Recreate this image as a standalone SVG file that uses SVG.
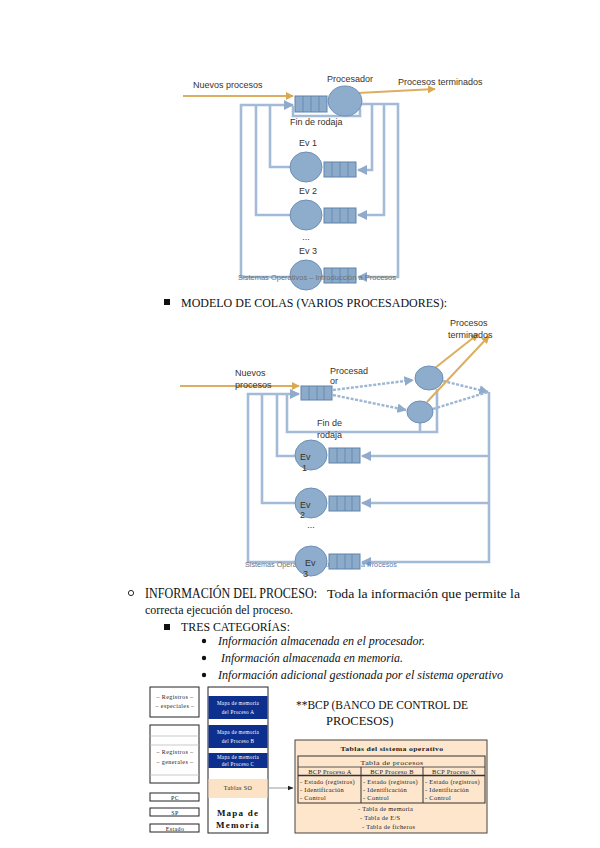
<svg xmlns="http://www.w3.org/2000/svg" width="600" height="848" viewBox="0 0 600 848">
<defs>
<style>
.lbl{font-family:"Liberation Sans",Arial,sans-serif;font-size:9px;fill:#3a3328}
.foot{font-family:"Liberation Sans",Arial,sans-serif;font-size:7px;fill:#707070}
.body{font-family:"Liberation Serif","Times New Roman",serif;fill:#111}
.it{font-style:italic}
.pipe{fill:none;stroke:#a3bbd6;stroke-width:2.6}
.dash{fill:none;stroke:#9cb6d3;stroke-width:2.4;stroke-dasharray:3 1.5}
.org{fill:none;stroke:#dcae62;stroke-width:2}
.circ{fill:#8eadcd;stroke:#6d90b6;stroke-width:1}
.q{fill:#8cabcb;stroke:#5f83aa;stroke-width:1}
.cell{stroke:#5f83aa;stroke-width:0.8}
.box{fill:#fff;stroke:#222;stroke-width:1}
.tiny{font-family:"Liberation Serif","Times New Roman",serif;font-size:6px;fill:#222;letter-spacing:0.4px}
.mw{font-family:"Liberation Serif","Times New Roman",serif;font-size:5.2px;fill:#fff;letter-spacing:0.3px}
.tb{font-family:"Liberation Serif","Times New Roman",serif;font-size:6.4px;fill:#222;letter-spacing:0.3px}
</style>
<marker id="ab" viewBox="0 0 10 10" refX="9" refY="5" markerWidth="4" markerHeight="4" orient="auto"><path d="M0,0 L10,5 L0,10 z" fill="#8faacb"/></marker>
<marker id="ao" viewBox="0 0 10 10" refX="9" refY="5" markerWidth="4" markerHeight="4" orient="auto"><path d="M0,0 L10,5 L0,10 z" fill="#d9a850"/></marker>
<marker id="ak" viewBox="0 0 10 10" refX="9" refY="5" markerWidth="6" markerHeight="6" orient="auto"><path d="M0,1 L10,5 L0,9 z" fill="#222"/></marker>
</defs>
<rect width="600" height="848" fill="#fff"/>

<!-- ============ TOP DIAGRAM ============ -->
<g id="top-connectors">
<path class="pipe" d="M290,277 H241 V105 H293" marker-end="url(#ab)"/>
<path class="pipe" d="M290,215 H256 V105"/>
<path class="pipe" d="M290,167 H270 V105"/>
<path class="pipe" d="M360,108 V116 H293 V106"/>
<path class="pipe" d="M361,104 H398 V277 H358" marker-end="url(#ab)"/>
<path class="pipe" d="M384,104 V215 H358" marker-end="url(#ab)"/>
<path class="pipe" d="M372,104 V170 H358" marker-end="url(#ab)"/>
<path class="org" d="M183,96 H293" marker-end="url(#ao)"/>
<path class="org" d="M358,93 L435,89" marker-end="url(#ao)"/>
</g>
<g id="top-queue">
<rect class="q" x="295" y="96" width="32" height="16"/>
<path class="cell" d="M303,96V112M311,96V112M319,96V112"/>
</g>
<g id="top-processor"><ellipse class="circ" cx="345" cy="101" rx="17" ry="15"/></g>
<g id="top-ev1"><ellipse class="circ" cx="306" cy="167" rx="16" ry="15"/><rect class="q" x="324" y="162" width="32" height="15"/><path class="cell" d="M332,162V177M340,162V177M348,162V177"/></g>
<g id="top-ev2"><ellipse class="circ" cx="306" cy="215" rx="16" ry="15"/><rect class="q" x="324" y="208" width="32" height="15"/><path class="cell" d="M332,208V223M340,208V223M348,208V223"/></g>
<g id="top-ev3"><ellipse class="circ" cx="306" cy="275" rx="16" ry="15"/><rect class="q" x="324" y="268" width="32" height="15"/><path class="cell" d="M332,268V283M340,268V283M348,268V283"/></g>
<g id="top-labels">
<text class="lbl" x="193" y="88">Nuevos procesos</text>
<text class="lbl" x="327" y="82">Procesador</text>
<text class="lbl" x="398" y="85">Procesos terminados</text>
<text class="lbl" x="290" y="125">Fin de rodaja</text>
<text class="lbl" x="308" y="146" text-anchor="middle">Ev 1</text>
<text class="lbl" x="308" y="194" text-anchor="middle">Ev 2</text>
<text class="lbl" x="306" y="240" text-anchor="middle">...</text>
<text class="lbl" x="308" y="254" text-anchor="middle">Ev 3</text>
<text class="foot" x="238" y="280" textLength="158" lengthAdjust="spacingAndGlyphs">Sistemas Operativos – Introducción a Procesos</text>
</g>

<!-- ============ TEXT 1 ============ -->
<g id="heading-colas">
<rect x="164" y="299" width="6" height="6" fill="#111"/>
<text class="body" x="181" y="307" font-size="12.5" textLength="266" lengthAdjust="spacingAndGlyphs">MODELO DE COLAS (VARIOS PROCESADORES):</text>
</g>

<!-- ============ MIDDLE DIAGRAM ============ -->
<g id="mid-connectors">
<path class="pipe" d="M295,562 H248 V394 H299" marker-end="url(#ab)"/>
<path class="pipe" d="M295,503 H262 V394"/>
<path class="pipe" d="M295,456 H277 V394"/>
<path class="pipe" d="M420,423 V432 H287 V394"/>
<path class="pipe" d="M437,389 V432 H420"/>
<path class="pipe" d="M489,392 V562 H362" marker-end="url(#ab)"/>
<path class="pipe" d="M489,503 H362" marker-end="url(#ab)"/>
<path class="pipe" d="M489,456 H362" marker-end="url(#ab)"/>
<path class="dash" d="M333,390 L413,380" marker-end="url(#ab)"/>
<path class="dash" d="M333,395 L406,410" marker-end="url(#ab)"/>
<path class="dash" d="M443,381 L488,392" marker-end="url(#ab)"/>
<path class="dash" d="M433,409 L488,392"/>
<path class="org" d="M180,386 H299" marker-end="url(#ao)"/>
<path class="org" d="M435,368 L478,334" marker-end="url(#ao)"/>
<path class="org" d="M427,402 L489,336" marker-end="url(#ao)"/>
</g>
<g id="mid-queue">
<rect class="q" x="301" y="386" width="31" height="14"/>
<path class="cell" d="M309,386V400M317,386V400M324,386V400"/>
</g>
<g id="mid-proc1"><ellipse class="circ" cx="429" cy="378" rx="14" ry="12"/></g>
<g id="mid-proc2"><ellipse class="circ" cx="420" cy="412" rx="13" ry="11"/></g>
<text class="foot" x="245" y="567" textLength="152" lengthAdjust="spacingAndGlyphs">Sistemas Operativos – <tspan fill="#5a7fb5">Introducción a Procesos</tspan></text>
<g id="mid-ev1"><ellipse class="circ" cx="311" cy="455" rx="16" ry="15"/><rect class="q" x="329" y="448" width="31" height="15"/><path class="cell" d="M337,448V463M345,448V463M352,448V463"/></g>
<g id="mid-ev2"><ellipse class="circ" cx="311" cy="503" rx="16" ry="15"/><rect class="q" x="329" y="496" width="31" height="15"/><path class="cell" d="M337,496V511M345,496V511M352,496V511"/></g>
<g id="mid-ev3"><ellipse class="circ" cx="311" cy="561" rx="16" ry="15"/><rect class="q" x="329" y="554" width="31" height="15"/><path class="cell" d="M337,554V569M345,554V569M352,554V569"/></g>
<g id="mid-labels">
<text class="lbl" x="235" y="376">Nuevos</text>
<text class="lbl" x="235" y="388">procesos</text>
<text class="lbl" x="330" y="374">Procesad</text>
<text class="lbl" x="330" y="384">or</text>
<text class="lbl" x="450" y="326">Procesos</text>
<text class="lbl" x="448" y="338">terminados</text>
<text class="lbl" x="317" y="426">Fin de</text>
<text class="lbl" x="317" y="438">rodaja</text>
<text class="lbl" x="300" y="460">Ev</text>
<text class="lbl" x="302" y="471" fill="#3f6fb5">1</text>
<text class="lbl" x="300" y="508">Ev</text>
<text class="lbl" x="300" y="518">2</text>
<text class="lbl" x="311" y="528" text-anchor="middle">...</text>
<text class="lbl" x="305" y="566">Ev</text>
<text class="lbl" x="303" y="577">3</text>
</g>

<!-- ============ TEXT 2 ============ -->
<g id="info-text">
<circle cx="131" cy="593" r="2.6" fill="none" stroke="#111" stroke-width="0.9"/>
<text class="body" x="145" y="598" font-size="14" textLength="172" lengthAdjust="spacingAndGlyphs">INFORMACIÓN DEL PROCESO:</text>
<text class="body" x="327" y="598" font-size="12.5" textLength="193" lengthAdjust="spacingAndGlyphs">Toda la información que permite la</text>
<text class="body" x="145" y="614" font-size="12" textLength="148" lengthAdjust="spacingAndGlyphs">correcta ejecución del proceso.</text>
<rect x="164" y="624" width="6" height="6" fill="#111"/>
<text class="body" x="181" y="631" font-size="13" textLength="109" lengthAdjust="spacingAndGlyphs">TRES CATEGORÍAS:</text>
<circle cx="204" cy="641" r="2.2" fill="#111"/>
<text class="body it" x="218" y="645" font-size="12" textLength="207" lengthAdjust="spacingAndGlyphs">Información almacenada en el procesador.</text>
<circle cx="204" cy="658" r="2.2" fill="#111"/>
<text class="body it" x="221" y="662" font-size="12" textLength="182" lengthAdjust="spacingAndGlyphs">Información almacenada en memoria.</text>
<circle cx="204" cy="675" r="2.2" fill="#111"/>
<text class="body it" x="218" y="679" font-size="12" textLength="285" lengthAdjust="spacingAndGlyphs">Información adicional gestionada por el sistema operativo</text>
</g>

<!-- ============ BOTTOM ============ -->
<g id="registers">
<rect class="box" x="150" y="687" width="49" height="30"/>
<text class="tiny" x="175" y="699" text-anchor="middle">– Registros –</text>
<text class="tiny" x="175" y="708" text-anchor="middle">– especiales –</text>
<rect class="box" x="150" y="725" width="49" height="58"/>
<path d="M150,736H199M150,745H199M150,775H199" stroke="#bbb" stroke-width="0.8"/>
<text class="tiny" x="175" y="754" text-anchor="middle">– Registros –</text>
<text class="tiny" x="175" y="764" text-anchor="middle">– generales –</text>
</g>
<g id="reg-pc"><rect class="box" x="150" y="793" width="49" height="8"/><text class="tiny" x="175" y="799.5" text-anchor="middle">PC</text></g>
<g id="reg-sp"><rect class="box" x="150" y="808" width="49" height="8"/><text class="tiny" x="175" y="814.5" text-anchor="middle">SP</text></g>
<g id="reg-estado"><rect class="box" x="150" y="824" width="49" height="8"/><text class="tiny" x="175" y="830.5" text-anchor="middle">Estado</text></g>

<g id="memory-map">
<rect class="box" x="208" y="687" width="60" height="146"/>
<rect x="208.5" y="696" width="59" height="23" fill="#0d2f8e"/>
<text class="mw" x="238" y="705" text-anchor="middle">Mapa de memoria</text>
<text class="mw" x="238" y="714" text-anchor="middle">del Proceso A</text>
<rect x="208.5" y="725" width="59" height="23" fill="#0d2f8e"/>
<text class="mw" x="238" y="734" text-anchor="middle">Mapa de memoria</text>
<text class="mw" x="238" y="743" text-anchor="middle">del Proceso B</text>
<rect x="208.5" y="753" width="59" height="15" fill="#0d2f8e"/>
<text class="mw" x="238" y="759" text-anchor="middle">Mapa de memoria</text>
<text class="mw" x="238" y="766" text-anchor="middle">del Proceso C</text>
<rect x="208.5" y="779" width="59" height="19" fill="#fde3c6"/>
<text class="tiny" x="238" y="790" text-anchor="middle" font-size="5.5">Tablas SO</text>
<text class="body" x="238" y="816" text-anchor="middle" font-size="9" font-weight="bold" letter-spacing="1.2">Mapa de</text>
<text class="body" x="238" y="828" text-anchor="middle" font-size="9" font-weight="bold" letter-spacing="1.2">Memoria</text>
</g>
<g id="link"><path d="M268,788 H293" stroke="#999" stroke-width="1" fill="none" marker-end="url(#ak)"/></g>

<g id="bcp-title">
<text class="body" x="296" y="709" font-size="12.5" textLength="172" lengthAdjust="spacingAndGlyphs">**BCP (BANCO DE CONTROL DE</text>
<text class="body" x="326" y="725" font-size="12.5">PROCESOS)</text>
</g>

<g id="os-tables">
<rect x="295" y="740" width="192" height="93" fill="#fde6cc" stroke="#444" stroke-width="1"/>
<text class="tb" x="392" y="751" text-anchor="middle" font-weight="bold" font-size="7.5" textLength="103" lengthAdjust="spacingAndGlyphs">Tablas del sistema operativo</text>
<rect x="298" y="756" width="187" height="47" fill="none" stroke="#333" stroke-width="1"/>
<text class="tb" x="392" y="764.5" text-anchor="middle" font-size="7.5" textLength="63" lengthAdjust="spacingAndGlyphs">Tabla de procesos</text>
<path d="M298,767H485" stroke="#333" stroke-width="0.8"/>
<path d="M298,775.5H485" stroke="#333" stroke-width="1.5"/>
<path d="M361,767V803M423,767V803" stroke="#333" stroke-width="1"/>
<text class="tb" x="330" y="773.5" text-anchor="middle" font-size="5.8">BCP Proceso A</text>
<text class="tb" x="392" y="773.5" text-anchor="middle" font-size="5.8">BCP Proceso B</text>
<text class="tb" x="454" y="773.5" text-anchor="middle" font-size="5.8">BCP Proceso N</text>
<text class="tb" x="300" y="784">- Estado (registros)</text>
<text class="tb" x="300" y="792">- Identificación</text>
<text class="tb" x="300" y="800">- Control</text>
<text class="tb" x="363" y="784">- Estado (registros)</text>
<text class="tb" x="363" y="792">- Identificación</text>
<text class="tb" x="363" y="800">- Control</text>
<text class="tb" x="425" y="784">- Estado (registros)</text>
<text class="tb" x="425" y="792">- Identificación</text>
<text class="tb" x="425" y="800">- Control</text>
<text class="tb" x="358" y="811" font-size="7">- Tabla de memoria</text>
<text class="tb" x="360" y="820" font-size="7">- Tabla de E/S</text>
<text class="tb" x="362" y="829" font-size="7">- Tabla de ficheros</text>
</g>
</svg>
